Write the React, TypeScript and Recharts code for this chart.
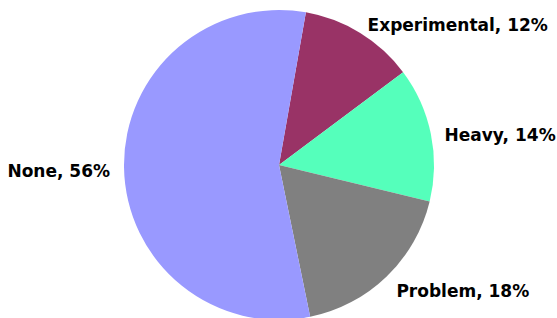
import { PieChart, Pie, Cell } from "recharts";

const categories = ["Experimental", "Heavy", "Problem", "None"];
const values = [12, 14, 18, 56];
const colors = ["#993366", "#55FFBB", "#808080", "#9999FF"];

const data = categories.map((name, i) => ({ name, value: values[i] }));

const RADIAN = Math.PI / 180;

function renderLabel(props: any) {
  const { cx, cy, midAngle, outerRadius, name, percent } = props;
  const r = outerRadius + 14;
  const x = cx + r * Math.cos(-midAngle * RADIAN);
  const y = cy + r * Math.sin(-midAngle * RADIAN);
  const anchor = x > cx ? "start" : "end";
  return (
    <text
      x={x}
      y={y + 4}
      textAnchor={anchor}
      dominantBaseline="central"
      fill="#000"
      fontFamily="'DejaVu Sans', Verdana, sans-serif"
      fontWeight="bold"
      fontSize={17}
    >
      {`${name}, ${Math.round(percent * 100)}%`}
    </text>
  );
}

export default function App() {
  return (
    <div style={{ position: "fixed", left: 0, top: 0, width: 557, height: 318, background: "#fff" }}>
      <PieChart width={557} height={318} margin={{ top: 0, right: 0, bottom: 0, left: 0 }}>
        <Pie
          data={data}
          dataKey="value"
          nameKey="name"
          cx={279}
          cy={165}
          outerRadius={155}
          startAngle={80}
          endAngle={-280}
          stroke="none"
          label={renderLabel}
          labelLine={false}
          isAnimationActive={false}
        >
          {data.map((d, i) => (
            <Cell key={d.name} fill={colors[i]} />
          ))}
        </Pie>
      </PieChart>
    </div>
  );
}
